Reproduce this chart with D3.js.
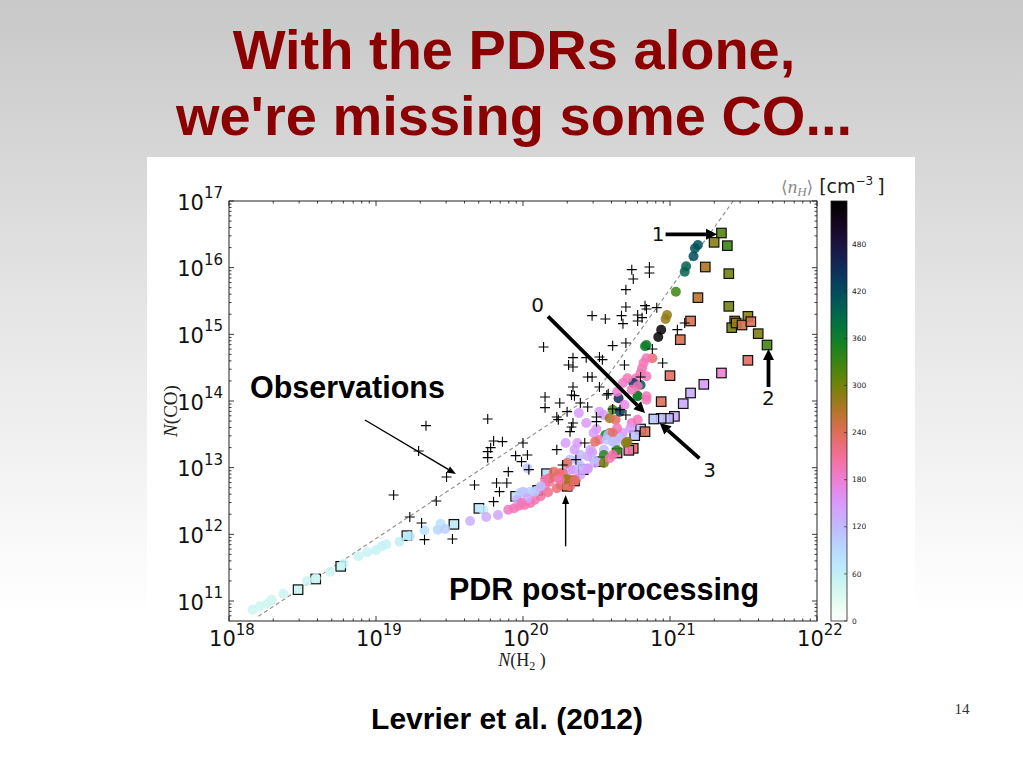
<!DOCTYPE html>
<html><head><meta charset="utf-8">
<script src="https://cdn.jsdelivr.net/npm/d3@7"></script>
<style>
html,body{margin:0;padding:0;}
body{width:1023px;height:767px;overflow:hidden;background:#fff;}
</style></head><body>
<svg id="c" width="1023" height="767"></svg>
<script>
// ---- DATA (log10 column densities, cm^-2) ----
const obsLogNH2 = [19.34,19.29,19.12,19.23,19.31,19.33,19.41,19.48,19.52,19.76,19.80,19.86,19.78,19.76,19.76,20.00,19.95,19.99,19.90,19.67,19.82,19.89,19.84,19.80,20.03,20.04,20.23,20.27,20.42,20.36,20.34,20.52,20.15,20.15,20.25,20.33,20.39,20.44,20.30,20.23,20.24,20.34,20.33,20.32,20.57,20.61,20.50,20.50,20.66,20.70,20.74,20.75,20.86,20.86,20.70,20.70,20.83,20.84,20.91,20.47,20.56,20.67,20.68,20.78,20.78,20.81,21.05,21.10,20.61,20.70,20.88,20.95,20.34,20.43,20.52,20.54,20.34,20.69,20.44,20.47,20.80,20.35,20.58,20.14,20.31];
const obsLogNCO = [13.63,13.25,12.59,12.26,12.17,11.92,12.50,12.86,11.93,13.73,13.40,13.39,13.30,13.24,13.15,13.37,13.18,13.09,12.94,12.74,12.77,12.77,12.64,12.49,13.19,12.97,13.27,13.04,13.37,13.12,14.21,14.21,14.06,13.90,13.97,14.09,13.97,13.91,13.84,13.76,13.72,13.67,13.61,13.54,14.09,13.88,13.76,13.69,13.87,13.79,15.97,15.83,16.01,15.92,15.67,15.41,15.43,15.38,15.40,15.28,15.23,15.28,15.16,15.29,15.20,15.25,15.07,15.17,14.83,14.87,14.78,14.57,14.65,14.65,14.66,14.62,14.51,14.54,14.36,14.36,14.36,14.08,14.11,14.81,14.54];

// PDR post-processing, circles: [log N(H2), log N(CO), <nH>]
const pdrCircles = [
[18.16,10.87,45],[18.21,10.92,45],[18.26,10.96,45],[18.29,11.02,45],[18.37,11.11,48],[18.53,11.30,48],[18.59,11.34,48],[18.69,11.44,50],[18.78,11.56,50],[18.88,11.67,52],[18.94,11.73,52],[19.00,11.76,55],[19.04,11.82,55],[19.07,11.85,55],[19.16,11.89,60],[19.23,11.97,75],[19.33,12.06,80],[19.42,12.07,95],[19.44,12.16,80],[19.47,12.08,100],
[19.64,12.20,130],[19.73,12.37,65],[19.75,12.26,135],[19.83,12.29,140],[19.90,12.37,190],[19.94,12.39,195],[19.97,12.43,195],[20.01,12.44,200],[20.05,12.47,200],[20.08,12.52,200],[20.12,12.57,205],[20.17,12.63,215],[20.23,12.69,225],[20.26,12.74,235],[20.29,12.82,265],[20.25,12.92,200],[20.22,12.86,200],[20.18,12.79,205],[20.15,12.74,200],[20.12,12.69,195],
[20.08,12.64,110],[20.05,12.64,100],[20.01,12.62,95],[19.98,12.62,90],[20.03,12.99,105],[19.96,12.52,130],[20.00,12.64,110],[20.29,13.04,100],[20.32,12.97,145],[20.37,13.12,120],[20.29,13.37,145],[20.36,12.82,235],[20.32,12.72,230],[20.39,12.89,140],[20.44,12.99,145],[20.49,13.07,140],[20.47,13.23,145],[20.48,13.52,150],[20.43,13.67,150],[20.38,13.82,150],
[20.55,13.27,120],[20.55,13.19,340],[20.55,13.07,300],[20.59,13.14,200],[20.63,13.37,120],[20.66,13.47,150],[20.59,13.52,235],[20.56,13.49,350],[20.37,13.37,150],[20.46,13.27,145],[20.50,13.58,150],[20.58,13.49,115],[20.55,13.79,150],[20.52,13.84,150],[20.59,13.74,280],[20.63,13.72,235],[20.61,13.87,320],[20.66,13.84,430],[20.65,14.04,460],[20.69,13.94,170],
[20.78,14.07,360],[20.84,14.02,190],[20.80,14.24,410],[20.74,13.67,190],[20.78,13.72,195],[20.73,13.59,150],[20.68,13.52,145],[20.64,13.59,195],[20.61,13.52,235],[20.52,13.42,200],[20.49,13.39,235],[20.57,13.42,110],[20.61,13.39,115],[20.66,13.44,115],[20.71,13.39,290],[20.70,13.37,290],[20.64,13.26,340],[20.61,13.19,200],[20.48,13.12,115],[20.44,13.17,140],
[20.39,13.19,120],[20.35,13.27,145],[20.32,13.12,110],[20.30,13.07,235],[20.34,12.97,145],[20.39,13.03,115],[20.44,12.98,145],[20.27,12.92,230],[20.30,12.83,280],[20.35,12.82,235],[20.25,12.82,200],[20.21,12.94,235],[20.18,12.84,235],[20.15,12.82,200],[20.12,12.72,115],[20.03,12.54,140],[19.99,12.47,195],
[21.16,16.17,420],[21.19,16.34,415],[21.17,16.29,415],[21.11,16.02,395],[21.10,15.94,395],[21.04,15.64,330],[20.98,15.29,285],[20.97,15.23,285],[20.94,15.07,530],[20.92,14.96,530],[20.84,14.84,360],[20.83,14.82,360],[20.88,14.64,230],[20.84,14.64,195],[20.82,14.57,195],[20.81,14.49,195],[20.80,14.42,195],[20.84,14.37,195],[20.77,14.34,195],[20.75,14.27,440],[20.71,14.34,195],[20.68,14.27,190],[20.64,14.14,180],[20.78,14.22,195],[20.78,14.08,360],[20.84,14.07,195],[20.74,14.17,195]
];

// PDR post-processing, squares: [log N(H2), log N(CO), <nH>]
const pdrSquares = [
[21.35,16.52,315],[21.30,16.38,290],[21.39,16.33,330],[21.24,16.01,270],[21.40,15.91,300],[21.19,15.55,265],[21.40,15.42,300],[21.14,15.20,245],[21.44,15.20,290],[21.42,15.10,300],[21.45,15.17,280],[21.53,15.27,290],[21.49,15.14,245],[21.55,15.19,240],[21.60,15.01,295],[21.66,14.84,325],[21.53,14.61,235],[21.07,14.92,245],[21.00,14.38,235],[21.35,14.42,180],
[21.23,14.25,150],[21.14,14.12,135],[21.09,13.96,135],[21.03,13.77,135],[20.99,13.74,120],[20.94,13.99,240],[20.94,13.74,115],[20.89,13.73,110],[20.80,13.58,115],[20.83,13.54,240],[20.76,13.48,115],[20.75,13.29,230],[20.72,13.26,200],[20.64,13.22,200],[20.41,12.97,150],[20.30,12.72,250],[20.16,12.91,90],[19.95,12.57,80],[19.70,12.39,80],[19.53,12.15,70],
[19.21,11.98,70],[18.76,11.52,50],[18.59,11.33,50],[18.47,11.17,48],[20.52,13.09,150],[20.35,12.80,200],[20.10,12.66,120]
];

// broken power-law reference (dashed)
const fitLogNH2 = [18.20, 20.49, 21.43];
const fitLogNCO = [10.77, 14.11, 17.00];

const xTickExp = [18,19,20,21,22];
const yTickExp = [11,12,13,14,15,16,17];
const cbarTicks = [0,60,120,180,240,300,360,420,480];
const cbarMax = 535;

// annotation arrows (data coordinates, log10)
const numArrows = [
  {label:"0", from:[20.17,15.27], to:[20.83,13.82], text:[20.10,15.44]},
  {label:"1", from:[20.97,16.50], to:[21.32,16.50], text:[20.92,16.50]},
  {label:"2", from:[21.67,14.21], to:[21.67,14.78], text:[21.67,14.05]},
  {label:"3", from:[21.20,13.14], to:[20.93,13.67], text:[21.27,12.96]}
];
const thinArrows = [
  {from:[18.925,13.715], to:[19.544,12.905]},
  {from:[20.29,11.82], to:[20.29,12.59]}
];

// ---- DRAWING ----
const svg = d3.select("#c");
const defs = svg.append("defs");
const bg = defs.append("linearGradient").attr("id","bg").attr("x1",0).attr("y1",0).attr("x2",0).attr("y2",1);
bg.append("stop").attr("offset","0%").attr("stop-color","#c8c8c8");
bg.append("stop").attr("offset","40%").attr("stop-color","#e5e5e5");
bg.append("stop").attr("offset","80%").attr("stop-color","#ffffff");
svg.append("rect").attr("width",1023).attr("height",767).attr("fill","url(#bg)");

// title
const title = svg.append("g").attr("font-family","'Liberation Sans', Arial, sans-serif")
  .attr("font-weight","bold").attr("font-size",56).attr("fill","#8b0000").attr("text-anchor","middle");
title.append("text").attr("x",514).attr("y",69).text("With the PDRs alone,");
title.append("text").attr("x",514).attr("y",135).text("we're missing some CO...");

// chart white background
svg.append("rect").attr("x",147).attr("y",157).attr("width",768).attr("height",523).attr("fill","#fff");

const P = v => Math.pow(10, v);
const x = d3.scaleLog().domain([1e18, 1e22]).range([229, 817]);
const y = d3.scaleLog().domain([P(10.7), 1e17]).range([621, 201]);
const cmap = d3.interpolateCubehelixLong(d3.cubehelix(300, 0.8, 0), d3.cubehelix(-240, 0.8, 1));
const color = n => cmap(1 - n / cbarMax);

defs.append("clipPath").attr("id","clip").append("rect")
  .attr("x",229).attr("y",201).attr("width",588).attr("height",420);
const plot = svg.append("g").attr("clip-path","url(#clip)");

// dashed relation
plot.append("path")
  .attr("d", d3.line().x((d,i)=>x(P(d))).y((d,i)=>y(P(fitLogNCO[i])))(fitLogNH2))
  .attr("fill","none").attr("stroke","#8a8a8a").attr("stroke-width",1.1).attr("stroke-dasharray","4,3");

// squares
const sq = 9.5;
plot.append("g").selectAll("rect").data(pdrSquares).join("rect")
  .attr("x", d => x(P(d[0])) - sq/2).attr("y", d => y(P(d[1])) - sq/2)
  .attr("width", sq).attr("height", sq)
  .attr("fill", d => color(d[2])).attr("fill-opacity",0.9)
  .attr("stroke","#111").attr("stroke-width",1.2);

// circles
plot.append("g").selectAll("circle").data(pdrCircles).join("circle")
  .attr("cx", d => x(P(d[0]))).attr("cy", d => y(P(d[1]))).attr("r",5)
  .attr("fill", d => color(d[2])).attr("fill-opacity",0.85);

// observations crosses
const cs = 5;
plot.append("g").selectAll("path").data(obsLogNH2).join("path")
  .attr("d", (d,i) => {
    const px = x(P(d)), py = y(P(obsLogNCO[i]));
    return `M${px-cs},${py}H${px+cs}M${px},${py-cs}V${py+cs}`;
  })
  .attr("stroke","#000").attr("stroke-width",1.1).attr("fill","none");

// frame
svg.append("rect").attr("x",229).attr("y",201).attr("width",588).attr("height",420)
  .attr("fill","none").attr("stroke","#222").attr("stroke-width",1);

// ticks (inward, all four sides)
const tk = svg.append("g").attr("stroke","#222").attr("stroke-width",0.9);
for (let d = 18; d <= 22; d++) {
  for (let m = 1; m <= 9; m++) {
    if (d === 22 && m > 1) break;
    const v = m * P(d), px = x(v), L = m === 1 ? 5 : 2.5;
    tk.append("line").attr("x1",px).attr("x2",px).attr("y1",621).attr("y2",621-L);
    tk.append("line").attr("x1",px).attr("x2",px).attr("y1",201).attr("y2",201+L);
  }
}
for (let d = 10; d <= 17; d++) {
  for (let m = 1; m <= 9; m++) {
    const v = m * P(d);
    if (v < P(10.7) || v > 1e17) continue;
    const py = y(v), L = m === 1 ? 5 : 2.5;
    tk.append("line").attr("y1",py).attr("y2",py).attr("x1",229).attr("x2",229+L);
    tk.append("line").attr("y1",py).attr("y2",py).attr("x1",817).attr("x2",817-L);
  }
}

// tick labels
const lab = svg.append("g").attr("font-family","'DejaVu Sans', sans-serif").attr("fill","#111");
function pow10(g, px, py, e, anchor) {
  const t = g.append("text").attr("x",px).attr("y",py).attr("text-anchor",anchor).attr("font-size",21);
  t.append("tspan").text("10");
  t.append("tspan").attr("font-size",15).attr("dy",-11.5).text(e);
}
xTickExp.forEach(e => pow10(lab, x(P(e)) + 3, 646, e, "middle"));
yTickExp.forEach(e => pow10(lab, 223, y(P(e)) + 8.5, e, "end"));

// axis titles
const ser = "'Liberation Serif', 'DejaVu Serif', serif";
const yl = svg.append("text").attr("transform","translate(177,411) rotate(-90)")
  .attr("text-anchor","middle").attr("font-family",ser).attr("font-size",19).attr("fill","#222");
yl.append("tspan").attr("font-style","italic").text("N");
yl.append("tspan").text("(CO)");
const xl = svg.append("text").attr("x",522).attr("y",666)
  .attr("text-anchor","middle").attr("font-family",ser).attr("font-size",18).attr("fill","#222");
xl.append("tspan").attr("font-style","italic").text("N");
xl.append("tspan").text("(H");
xl.append("tspan").attr("font-size",12).attr("dy",4).text("2");
xl.append("tspan").attr("dy",-4).text(" )");

// colorbar
const cb = d3.scaleLinear().domain([0, cbarMax]).range([621, 201]);
const grad = defs.append("linearGradient").attr("id","cbar").attr("x1",0).attr("y1",1).attr("x2",0).attr("y2",0);
d3.range(0, 1.0001, 0.02).forEach(t => grad.append("stop").attr("offset", t).attr("stop-color", color(t*cbarMax)));
svg.append("rect").attr("x",831).attr("y",cb(cbarMax)).attr("width",16).attr("height",cb(0)-cb(cbarMax))
  .attr("fill","url(#cbar)").attr("stroke","#222").attr("stroke-width",0.8);
const cbl = svg.append("g").attr("font-family","'DejaVu Sans', sans-serif").attr("font-size",7.5).attr("fill","#222");
cbarTicks.forEach(v => {
  cbl.append("line").attr("x1",847).attr("x2",844).attr("y1",cb(v)).attr("y2",cb(v)).attr("stroke","#222").attr("stroke-width",0.6);
  cbl.append("text").attr("x",852).attr("y",cb(v)+2.7).text(v);
});
const ct = svg.append("text").attr("x",781).attr("y",193).attr("font-size",19);
ct.append("tspan").attr("font-family",ser).attr("fill","#8a8a8a").attr("font-size",17).text("\u27E8");
ct.append("tspan").attr("font-family",ser).attr("fill","#8a8a8a").attr("font-style","italic").attr("font-size",19).text("n");
ct.append("tspan").attr("font-family",ser).attr("fill","#8a8a8a").attr("font-style","italic").attr("font-size",13).attr("dy",3).text("H");
ct.append("tspan").attr("font-family",ser).attr("fill","#8a8a8a").attr("font-size",17).attr("dy",-3).text("\u27E9");
ct.append("tspan").attr("font-family","'DejaVu Sans', sans-serif").attr("fill","#222").attr("dx",6).text("[cm");
ct.append("tspan").attr("font-family","'DejaVu Sans', sans-serif").attr("fill","#222").attr("font-size",12).attr("dy",-8).text("\u22123");
ct.append("tspan").attr("font-family","'DejaVu Sans', sans-serif").attr("fill","#222").attr("dy",8).attr("dx",4).text("]");

// arrows
function arrow(g, a, b, w, hl, hw) {
  const x1 = x(P(a[0])), y1 = y(P(a[1])), x2 = x(P(b[0])), y2 = y(P(b[1]));
  const ang = Math.atan2(y2 - y1, x2 - x1);
  const bx = x2 - hl * Math.cos(ang), by = y2 - hl * Math.sin(ang);
  g.append("line").attr("x1",x1).attr("y1",y1).attr("x2",bx).attr("y2",by)
    .attr("stroke","#000").attr("stroke-width",w);
  const nx = -Math.sin(ang) * hw / 2, ny = Math.cos(ang) * hw / 2;
  g.append("path").attr("d",`M${x2},${y2}L${bx+nx},${by+ny}L${bx-nx},${by-ny}Z`).attr("fill","#000");
}
const ag = svg.append("g");
numArrows.forEach(a => {
  arrow(ag, a.from, a.to, 3.8, 11, 11);
  ag.append("text").attr("x", x(P(a.text[0]))).attr("y", y(P(a.text[1])))
    .attr("text-anchor","middle").attr("dominant-baseline","central")
    .attr("font-family","'DejaVu Sans', sans-serif").attr("font-size",20).attr("fill","#111").text(a.label);
});
thinArrows.forEach(a => arrow(ag, a.from, a.to, 1.4, 9, 7));

// slide annotations
const ann = svg.append("g").attr("font-family","'Liberation Sans', Arial, sans-serif").attr("font-weight","bold").attr("fill","#000");
ann.append("text").attr("x",250).attr("y",398).attr("font-size",30.5).text("Observations");
ann.append("text").attr("x",449).attr("y",600).attr("font-size",30.5).text("PDR post-processing");
ann.append("text").attr("x",507).attr("y",729).attr("font-size",30).attr("text-anchor","middle").text("Levrier et al. (2012)");
svg.append("text").attr("x",962).attr("y",714).attr("text-anchor","middle").attr("font-family",ser)
  .attr("font-size",15).attr("fill","#333").text("14");
</script>
</body></html>
